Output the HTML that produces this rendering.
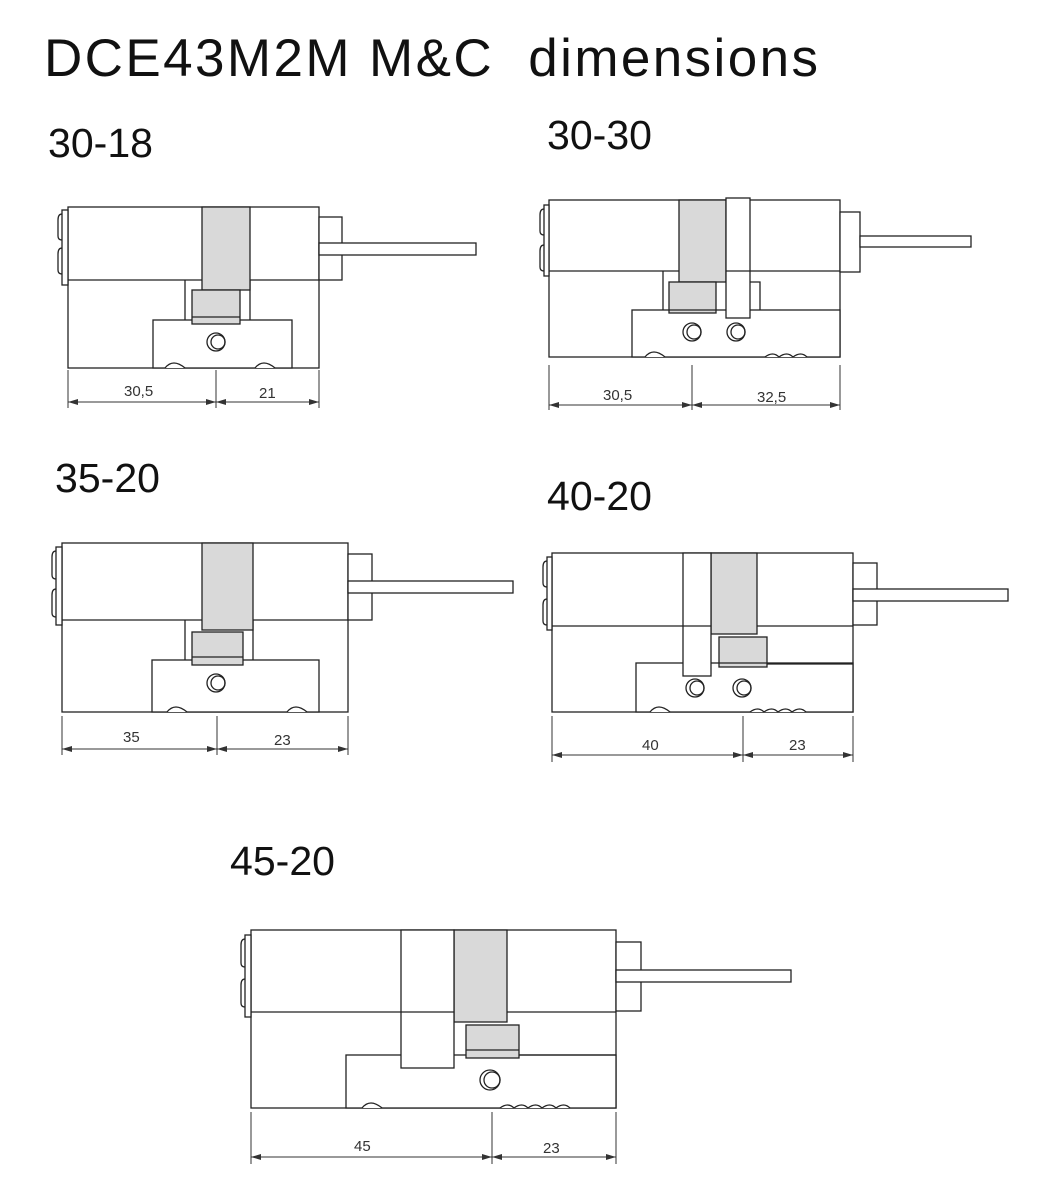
<!DOCTYPE html>
<html><head><meta charset="utf-8"><style>
html,body{margin:0;padding:0;background:#fff;}
svg{display:block}
text{font-family:"Liberation Sans",sans-serif;fill:#111}
.l{fill:none;stroke:#222;stroke-width:1.3}
.w{fill:#fff;stroke:#222;stroke-width:1.3}
.g{fill:#d9d9d9;stroke:#222;stroke-width:1.3}
.d{fill:none;stroke:#333;stroke-width:1}
.t{font-size:15px;fill:#333}
</style></head><body>
<svg width="1044" height="1200" viewBox="0 0 1044 1200" xmlns="http://www.w3.org/2000/svg">
<defs>
<marker id="a" viewBox="0 0 10 6" refX="10" refY="3" markerWidth="10" markerHeight="6" orient="auto-start-reverse" markerUnits="userSpaceOnUse"><path d="M0,0 L10,3 L0,6z" fill="#333"/></marker>
</defs>
<text x="44" y="76" font-size="53" textLength="774" lengthAdjust="spacing" xml:space="preserve">DCE43M2M M&amp;C  dimensions</text>
<text x="48" y="157" font-size="41" textLength="105" lengthAdjust="spacingAndGlyphs">30-18</text>
<text x="547" y="149" font-size="41" textLength="105" lengthAdjust="spacingAndGlyphs">30-30</text>
<text x="55" y="492" font-size="41" textLength="105" lengthAdjust="spacingAndGlyphs">35-20</text>
<text x="547" y="510" font-size="41" textLength="105" lengthAdjust="spacingAndGlyphs">40-20</text>
<text x="230" y="875" font-size="41" textLength="105" lengthAdjust="spacingAndGlyphs">45-20</text>

<!-- 30-18 -->
<g>
<rect class="w" x="68" y="207" width="251" height="161"/>
<line class="l" x1="68" y1="280" x2="319" y2="280"/>
<rect class="w" x="62" y="210" width="6" height="75"/>
<path class="l" d="M62,214 q-4,0 -4,6 v16 q0,4 4,4 M62,248 q-4,0 -4,6 v16 q0,4 4,4"/>
<rect class="w" x="153" y="320" width="139" height="48"/>
<path class="l" d="M185,320 V280 M250,320 V280"/>
<rect class="g" x="202" y="207" width="48" height="83"/>
<rect class="g" x="192" y="290" width="48" height="34"/>
<line class="l" x1="192" y1="317" x2="240" y2="317"/>
<circle class="l" cx="216" cy="342" r="9"/><circle class="l" cx="218" cy="342" r="7"/>
<path class="w" d="M165,368 q8,-10 20,0 M255,368 q8,-10 20,0"/>
<rect class="w" x="319" y="217" width="23" height="63"/>
<rect class="w" x="319" y="243" width="157" height="12"/>
<path class="d" d="M68,370 V408 M216,370 V408 M319,370 V408"/>
<line class="d" x1="68" y1="402" x2="216" y2="402" marker-start="url(#a)" marker-end="url(#a)"/>
<line class="d" x1="216" y1="402" x2="319" y2="402" marker-start="url(#a)" marker-end="url(#a)"/>
<text class="t" x="124" y="396">30,5</text><text class="t" x="259" y="398">21</text>
</g>

<!-- 30-30 -->
<g>
<rect class="w" x="549" y="200" width="291" height="157"/>
<line class="l" x1="549" y1="271" x2="840" y2="271"/>
<rect class="w" x="544" y="205" width="5" height="71"/>
<path class="l" d="M544,209 q-4,0 -4,6 v16 q0,4 4,4 M544,245 q-4,0 -4,6 v16 q0,4 4,4"/>
<rect class="w" x="632" y="310" width="208" height="47"/>
<path class="l" d="M663,310 V271 M750,282 H760 V310"/>
<rect class="g" x="679" y="200" width="47" height="82"/>
<rect class="g" x="669" y="282" width="47" height="31"/>
<line class="l" x1="669" y1="310" x2="716" y2="310" stroke-width="2"/>
<rect class="w" x="726" y="198" width="24" height="120"/>
<line class="l" x1="726" y1="271" x2="750" y2="271"/>
<circle class="l" cx="692" cy="332" r="9"/><circle class="l" cx="694" cy="332" r="7"/>
<circle class="l" cx="736" cy="332" r="9"/><circle class="l" cx="738" cy="332" r="7"/>
<path class="w" d="M645,357 q8,-10 20,0 M765,357 q8,-6 14,0 q8,-6 14,0 q8,-6 14,0"/>
<rect class="w" x="840" y="212" width="20" height="60"/>
<rect class="w" x="860" y="236" width="111" height="11"/>
<path class="d" d="M549,365 V410 M692,365 V410 M840,365 V410"/>
<line class="d" x1="549" y1="405" x2="692" y2="405" marker-start="url(#a)" marker-end="url(#a)"/>
<line class="d" x1="692" y1="405" x2="840" y2="405" marker-start="url(#a)" marker-end="url(#a)"/>
<text class="t" x="603" y="400">30,5</text><text class="t" x="757" y="402">32,5</text>
</g>

<!-- 35-20 -->
<g>
<rect class="w" x="62" y="543" width="286" height="169"/>
<line class="l" x1="62" y1="620" x2="348" y2="620"/>
<rect class="w" x="56" y="547" width="6" height="78"/>
<path class="l" d="M56,551 q-4,0 -4,6 v18 q0,4 4,4 M56,589 q-4,0 -4,6 v18 q0,4 4,4"/>
<rect class="w" x="152" y="660" width="167" height="52"/>
<path class="l" d="M185,660 V620 M253,660 V620"/>
<rect class="g" x="202" y="543" width="51" height="87"/>
<rect class="g" x="192" y="632" width="51" height="33"/>
<line class="l" x1="192" y1="657" x2="243" y2="657" stroke-width="2"/>
<circle class="l" cx="216" cy="683" r="9"/><circle class="l" cx="218" cy="683" r="7"/>
<path class="w" d="M167,712 q8,-10 20,0 M287,712 q8,-10 20,0"/>
<rect class="w" x="348" y="554" width="24" height="66"/>
<rect class="w" x="348" y="581" width="165" height="12"/>
<path class="d" d="M62,716 V755 M217,716 V755 M348,716 V755"/>
<line class="d" x1="62" y1="749" x2="217" y2="749" marker-start="url(#a)" marker-end="url(#a)"/>
<line class="d" x1="217" y1="749" x2="348" y2="749" marker-start="url(#a)" marker-end="url(#a)"/>
<text class="t" x="123" y="742">35</text><text class="t" x="274" y="745">23</text>
</g>

<!-- 40-20 -->
<g>
<rect class="w" x="552" y="553" width="301" height="159"/>
<line class="l" x1="552" y1="626" x2="853" y2="626"/>
<rect class="w" x="547" y="557" width="5" height="73"/>
<path class="l" d="M547,561 q-4,0 -4,6 v16 q0,4 4,4 M547,599 q-4,0 -4,6 v16 q0,4 4,4"/>
<rect class="w" x="636" y="663" width="217" height="49"/>
<rect class="g" x="711" y="553" width="46" height="81"/>
<rect class="g" x="719" y="637" width="48" height="30"/>
<line class="l" x1="719" y1="663" x2="767" y2="663" stroke-width="2"/>
<line class="l" x1="767" y1="664" x2="853" y2="664" stroke-width="2"/>
<rect class="w" x="683" y="553" width="28" height="123"/>
<line class="l" x1="683" y1="626" x2="711" y2="626"/>
<circle class="l" cx="695" cy="688" r="9"/><circle class="l" cx="697" cy="688" r="7"/>
<circle class="l" cx="742" cy="688" r="9"/><circle class="l" cx="744" cy="688" r="7"/>
<path class="w" d="M650,712 q8,-10 20,0 M750,712 q8,-6 14,0 q8,-6 14,0 q8,-6 14,0 q8,-6 14,0"/>
<rect class="w" x="853" y="563" width="24" height="62"/>
<rect class="w" x="853" y="589" width="155" height="12"/>
<path class="d" d="M552,716 V762 M743,716 V762 M853,716 V762"/>
<line class="d" x1="552" y1="755" x2="743" y2="755" marker-start="url(#a)" marker-end="url(#a)"/>
<line class="d" x1="743" y1="755" x2="853" y2="755" marker-start="url(#a)" marker-end="url(#a)"/>
<text class="t" x="642" y="750">40</text><text class="t" x="789" y="750">23</text>
</g>

<!-- 45-20 -->
<g>
<rect class="w" x="251" y="930" width="365" height="178"/>
<line class="l" x1="251" y1="1012" x2="616" y2="1012"/>
<rect class="w" x="245" y="935" width="6" height="82"/>
<path class="l" d="M245,939 q-4,0 -4,6 v18 q0,4 4,4 M245,979 q-4,0 -4,6 v18 q0,4 4,4"/>
<rect class="w" x="346" y="1055" width="270" height="53"/>
<rect class="g" x="454" y="930" width="53" height="92"/>
<rect class="g" x="466" y="1025" width="53" height="33"/>
<line class="l" x1="466" y1="1050" x2="519" y2="1050"/>
<line class="l" x1="519" y1="1055" x2="616" y2="1055" stroke-width="2"/>
<rect class="w" x="401" y="930" width="53" height="138"/>
<line class="l" x1="401" y1="1012" x2="454" y2="1012"/>
<circle class="l" cx="490" cy="1080" r="10"/><circle class="l" cx="492" cy="1080" r="8"/>
<path class="w" d="M362,1108 q8,-10 20,0 M500,1108 q8,-6 14,0 q8,-6 14,0 q8,-6 14,0 q8,-6 14,0 q8,-6 14,0"/>
<rect class="w" x="616" y="942" width="25" height="69"/>
<rect class="w" x="616" y="970" width="175" height="12"/>
<path class="d" d="M251,1112 V1164 M492,1112 V1164 M616,1112 V1164"/>
<line class="d" x1="251" y1="1157" x2="492" y2="1157" marker-start="url(#a)" marker-end="url(#a)"/>
<line class="d" x1="492" y1="1157" x2="616" y2="1157" marker-start="url(#a)" marker-end="url(#a)"/>
<text class="t" x="354" y="1151">45</text><text class="t" x="543" y="1153">23</text>
</g>
</svg>
</body></html>
